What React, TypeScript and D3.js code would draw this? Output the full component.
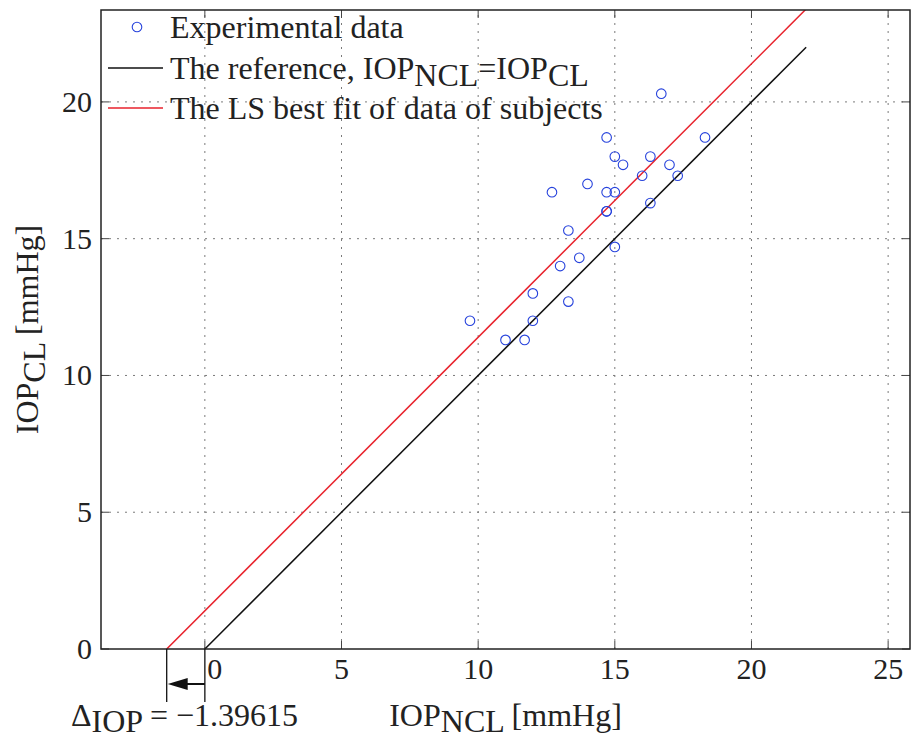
import React from "react";
import * as d3 from "d3";

const xTicks = [0, 5, 10, 15, 20, 25];
const yTicks = [0, 5, 10, 15, 20];
const ncl = [16.7, 14.7, 18.3, 15.0, 16.3, 15.3, 17.0, 16.0, 17.3, 14.0, 12.7, 14.7, 15.0, 14.7, 14.7, 16.3, 13.3, 15.0, 13.7, 13.0, 12.0, 13.3, 12.0, 11.0, 11.7, 9.7];
const cl = [20.3, 18.7, 18.7, 18.0, 18.0, 17.7, 17.7, 17.3, 17.3, 17.0, 16.7, 16.7, 16.7, 16.0, 16.0, 16.3, 15.3, 14.7, 14.3, 14.0, 13.0, 12.7, 12.0, 11.3, 11.3, 12.0];
const deltaIOP = -1.39615;
const refLine = [[0, 0], [22, 22]];
const fitLine = [[deltaIOP, 0], [22, 22 - deltaIOP]];
const legendLabels = ["Experimental data", "The reference, ", "The LS best fit of data of subjects"];

const W = 911, H = 740;
const L = 101, R = 910, T = 10, B = 649;
const FONT = "'Liberation Serif', 'Times New Roman', serif";
const FS = 30;
const LFS = 32;

export default function App() {
  const x = d3.scaleLinear().domain([-3.8, 25.8]).range([L, R]);
  const y = d3.scaleLinear().domain([0, 23.36]).range([B, T]);
  const line = d3.line<number[]>().x((d) => x(d[0])).y((d) => y(d[1]));
  const blue = "#2642dc";
  const red = "#e8222c";
  const dash = "2,6";
  const tickLen = 8;
  const arrowY = 684;
  const xa = x(deltaIOP), x0 = x(0);

  return (
    <svg width={W} height={H} style={{ position: "absolute", left: 0, top: 0, background: "#fff" }} fontFamily={FONT}>
      <defs>
        <clipPath id="plot"><rect x={L} y={T} width={R - L} height={B - T} /></clipPath>
      </defs>
      <rect x={0} y={0} width={W} height={H} fill="#fff" />
      {/* grid */}
      {xTicks.map((t) => (
        <line key={"gx" + t} x1={x(t)} x2={x(t)} y1={B} y2={T} stroke="#7a7a7a" strokeWidth={1} strokeDasharray={dash} />
      ))}
      {yTicks.filter((t) => t > 0).map((t) => (
        <line key={"gy" + t} x1={L} x2={R} y1={y(t)} y2={y(t)} stroke="#7a7a7a" strokeWidth={1} strokeDasharray={dash} />
      ))}
      {/* ticks */}
      {xTicks.map((t) => (
        <g key={"tx" + t} stroke="#444" strokeWidth={1}>
          <line x1={x(t)} x2={x(t)} y1={B} y2={B - tickLen} />
          <line x1={x(t)} x2={x(t)} y1={T} y2={T + tickLen} />
        </g>
      ))}
      {yTicks.map((t) => (
        <g key={"ty" + t} stroke="#444" strokeWidth={1}>
          <line x1={L} x2={L + tickLen} y1={y(t)} y2={y(t)} />
          <line x1={R} x2={R - tickLen} y1={y(t)} y2={y(t)} />
        </g>
      ))}
      {/* lines */}
      <g clipPath="url(#plot)">
        <path d={line(refLine) || ""} fill="none" stroke="#111" strokeWidth={1.5} />
        <path d={line(fitLine) || ""} fill="none" stroke={red} strokeWidth={1.5} />
        {ncl.map((v, i) => (
          <circle key={i} cx={x(v)} cy={y(cl[i])} r={4.8} fill="none" stroke={blue} strokeWidth={1.1} />
        ))}
      </g>
      {/* frame */}
      <rect x={L} y={T} width={R - L} height={B - T} fill="none" stroke="#222" strokeWidth={1.5} />
      {/* tick labels */}
      {xTicks.map((t) => (
        <text key={"lx" + t} x={x(t) + (t === 0 ? 10 : 0)} y={679} textAnchor="middle" fontSize={FS} fill="#222">{t}</text>
      ))}
      {yTicks.map((t) => (
        <text key={"ly" + t} x={92} y={y(t) + 10} textAnchor="end" fontSize={FS} fill="#222">{t}</text>
      ))}
      {/* axis labels */}
      <text x={(L + R) / 2} y={726} textAnchor="middle" fontSize={LFS} fill="#222">
        <tspan>IOP</tspan>
        <tspan dy={6}>NCL</tspan>
        <tspan dy={-6}> [mmHg]</tspan>
      </text>
      <text transform={`translate(38, ${(T + B) / 2}) rotate(-90)`} textAnchor="middle" fontSize={LFS} fill="#222">
        <tspan>IOP</tspan>
        <tspan dy={7}>CL</tspan>
        <tspan dy={-7}> [mmHg]</tspan>
      </text>
      {/* delta annotation */}
      <g stroke="#111" strokeWidth={1.3}>
        <line x1={xa} x2={xa} y1={B} y2={702} />
        <line x1={x0} x2={x0} y1={B} y2={702} />
        <line x1={xa + 18} x2={x0} y1={arrowY} y2={arrowY} strokeWidth={2} />
      </g>
      <path d={`M${xa + 1},${arrowY} L${xa + 21},${arrowY - 6} L${xa + 21},${arrowY + 6} Z`} fill="#111" />
      <text x={71} y={726} fontSize={LFS} fill="#222">
        <tspan>Δ</tspan>
        <tspan dy={6}>IOP</tspan>
        <tspan dy={-6}> = −1.39615</tspan>
      </text>
      {/* legend */}
      <circle cx={137} cy={27} r={4.8} fill="none" stroke={blue} strokeWidth={1.1} />
      <line x1={108} x2={163} y1={68} y2={68} stroke="#111" strokeWidth={1.5} />
      <line x1={108} x2={163} y1={108} y2={108} stroke={red} strokeWidth={1.5} />
      <text x={170} y={38} fontSize={LFS} fill="#222">{legendLabels[0]}</text>
      <text x={170} y={79} fontSize={LFS} fill="#222">
        <tspan>{legendLabels[1]}IOP</tspan>
        <tspan dy={7}>NCL</tspan>
        <tspan dy={-7}>=IOP</tspan>
        <tspan dy={7}>CL</tspan>
      </text>
      <text x={170} y={119} fontSize={LFS} fill="#222">{legendLabels[2]}</text>
    </svg>
  );
}
